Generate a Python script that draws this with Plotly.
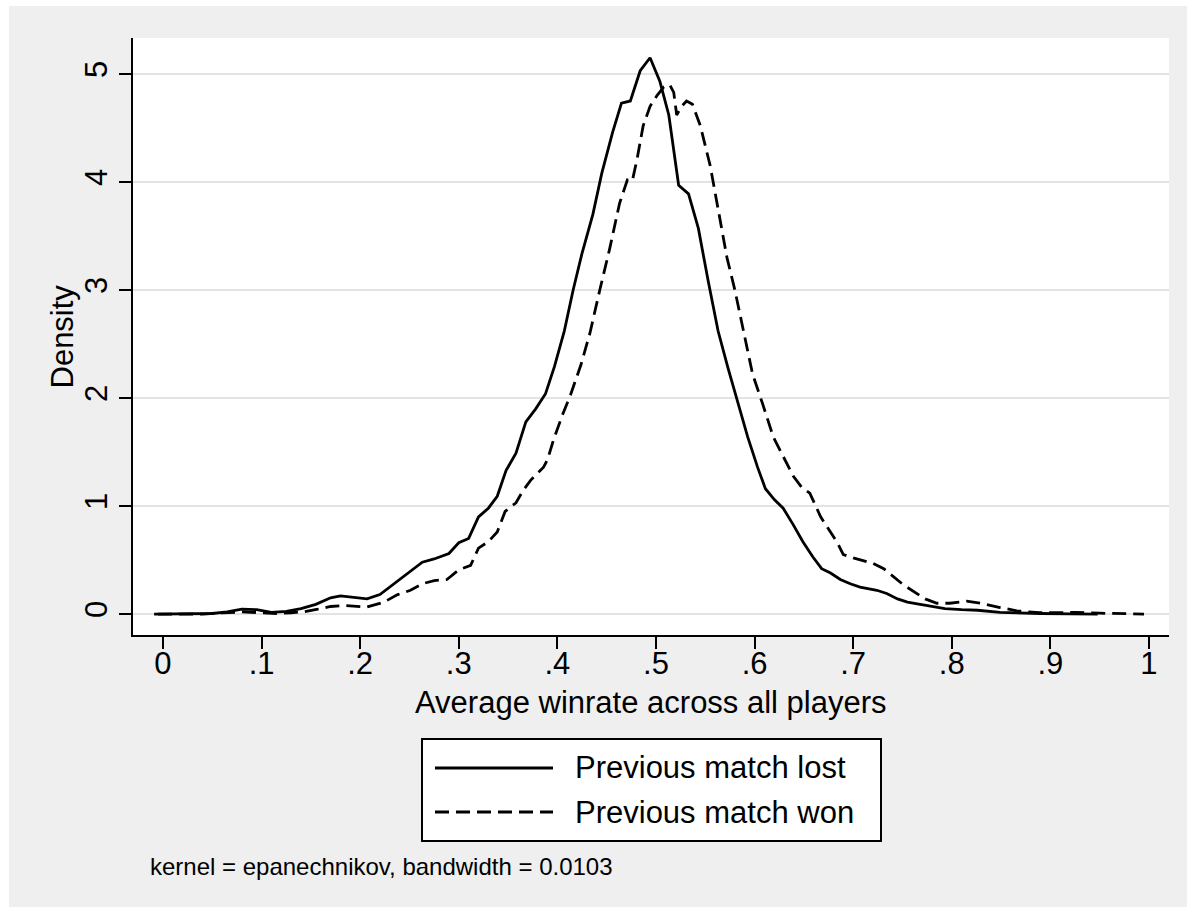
import plotly.graph_objects as go

# ---- data ----
lost_x = [-0.009, 0.01, 0.03, 0.05, 0.065, 0.08, 0.095, 0.11, 0.125, 0.14, 0.155, 0.17, 0.18, 0.195,
          0.207, 0.22, 0.237, 0.25, 0.263, 0.275, 0.29, 0.30, 0.31, 0.32, 0.33, 0.339, 0.348, 0.358,
          0.368, 0.378, 0.388, 0.397, 0.407, 0.416, 0.425, 0.436, 0.445, 0.456, 0.465, 0.474, 0.484,
          0.494, 0.504, 0.513, 0.523, 0.533, 0.543, 0.553, 0.563, 0.573, 0.583, 0.593, 0.603, 0.611,
          0.620, 0.629, 0.639, 0.649, 0.659, 0.668, 0.677, 0.687, 0.697, 0.707, 0.724, 0.734, 0.745,
          0.755, 0.765, 0.775, 0.793, 0.81, 0.826, 0.849, 0.87, 0.89, 0.92, 0.948]
lost_y = [0.0, 0.003, 0.0, 0.005, 0.02, 0.046, 0.04, 0.015, 0.025, 0.05, 0.09, 0.15, 0.168, 0.15,
          0.14, 0.18, 0.30, 0.39, 0.48, 0.51, 0.56, 0.66, 0.70, 0.90, 0.98, 1.09, 1.33, 1.49,
          1.78, 1.90, 2.04, 2.29, 2.62, 3.0, 3.34, 3.70, 4.08, 4.46, 4.73, 4.75, 5.03,
          5.15, 4.93, 4.62, 3.97, 3.89, 3.57, 3.08, 2.62, 2.28, 1.97, 1.64, 1.36, 1.16,
          1.06, 0.98, 0.83, 0.67, 0.53, 0.42, 0.38, 0.32, 0.28, 0.25, 0.22, 0.19, 0.14,
          0.11, 0.095, 0.08, 0.05, 0.04, 0.035, 0.015, 0.008, 0.005, 0.002, 0.0]

won_x = [-0.005, 0.02, 0.04, 0.06, 0.08, 0.1, 0.116, 0.13, 0.143, 0.157, 0.17, 0.184, 0.197, 0.207,
         0.224, 0.238, 0.251, 0.263, 0.275, 0.288, 0.30, 0.312, 0.32, 0.33, 0.339, 0.347, 0.358,
         0.365, 0.373, 0.386, 0.39, 0.396, 0.405, 0.413, 0.424, 0.433, 0.443, 0.453, 0.463, 0.471,
         0.476, 0.481, 0.487, 0.494, 0.501, 0.508, 0.514, 0.518, 0.521, 0.526, 0.531, 0.537, 0.545,
         0.555, 0.563, 0.572, 0.580, 0.590, 0.598, 0.608, 0.619, 0.629, 0.639, 0.648, 0.656, 0.667,
         0.684, 0.690, 0.700, 0.72, 0.731, 0.751, 0.761, 0.773, 0.785, 0.798, 0.815, 0.829, 0.849,
         0.866, 0.889, 0.91, 0.927, 0.95, 0.97, 0.995]
won_y = [0.0, 0.0, 0.0, 0.01, 0.02, 0.012, 0.005, 0.012, 0.022, 0.045, 0.07, 0.08, 0.075, 0.065,
         0.11, 0.18, 0.22, 0.28, 0.31, 0.32, 0.41, 0.45, 0.61, 0.67, 0.76, 0.95, 1.03,
         1.14, 1.24, 1.36, 1.43, 1.61, 1.84, 2.02, 2.31, 2.60, 3.0, 3.38, 3.80, 4.02,
         4.01, 4.22, 4.52, 4.70, 4.80, 4.88, 4.90, 4.83, 4.62, 4.70, 4.75, 4.72, 4.52,
         4.15, 3.75, 3.30, 3.00, 2.55, 2.22, 1.95, 1.64, 1.46, 1.28, 1.17, 1.12, 0.90,
         0.66, 0.55, 0.52, 0.47, 0.42, 0.27, 0.21, 0.14, 0.10, 0.10, 0.12, 0.10, 0.06,
         0.03, 0.012, 0.012, 0.015, 0.008, 0.004, 0.0]

x_tickvals = [0, 0.1, 0.2, 0.3, 0.4, 0.5, 0.6, 0.7, 0.8, 0.9, 1.0]
x_ticktext = ["0", ".1", ".2", ".3", ".4", ".5", ".6", ".7", ".8", ".9", "1"]
y_tickvals = [0, 1, 2, 3, 4, 5]
y_ticktext = ["0", "1", "2", "3", "4", "5"]

series_names = ["Previous match lost", "Previous match won"]
x_title = "Average winrate across all players"
y_title = "Density"
note_text = "kernel = epanechnikov, bandwidth = 0.0103"

# ---- layout geometry ----
W, H = 1196, 913
L, R, T, B = 133, 1169, 38, 635  # plot area in pixels
FONT = "Liberation Sans, Arial, Helvetica, sans-serif"
BG = "#EFEFEF"
LW = 2.8
DASH = "14px,7px"


def px(xp):
    return (xp - L) / (R - L)


def py(yp):
    return (B - yp) / (B - T)


fig = go.Figure()
fig.add_trace(go.Scatter(x=lost_x, y=lost_y, mode="lines", name=series_names[0],
                         line=dict(color="black", width=LW), showlegend=False))
fig.add_trace(go.Scatter(x=won_x, y=won_y, mode="lines", name=series_names[1],
                         line=dict(color="black", width=LW, dash=DASH), showlegend=False))

shapes = []
# white page border around the gray graph background
for (x0, y0, x1, y1) in [(0, 0, 9, H), (1187, 0, W, H), (0, 0, W, 6), (0, 907, W, H)]:
    shapes.append(dict(type="rect", xref="paper", yref="paper", x0=px(x0), x1=px(x1),
                       y0=py(y1), y1=py(y0), fillcolor="white", line=dict(width=0), layer="above"))
# legend box
shapes.append(dict(type="rect", xref="paper", yref="paper", x0=px(422), x1=px(881),
                   y0=py(841), y1=py(739), fillcolor="white", line=dict(color="black", width=2)))
shapes.append(dict(type="line", xref="paper", yref="paper", x0=px(435), x1=px(553),
                   y0=py(768), y1=py(768), line=dict(color="black", width=LW)))
shapes.append(dict(type="line", xref="paper", yref="paper", x0=px(435), x1=px(553),
                   y0=py(812), y1=py(812), line=dict(color="black", width=LW, dash=DASH)))

annotations = [
    dict(text=series_names[0], xref="paper", yref="paper", x=px(573), y=py(768), xanchor="left",
         yanchor="middle", showarrow=False, font=dict(size=31, color="black", family=FONT)),
    dict(text=series_names[1], xref="paper", yref="paper", x=px(573), y=py(812), xanchor="left",
         yanchor="middle", showarrow=False, font=dict(size=31, color="black", family=FONT)),
    dict(text=x_title, xref="paper", yref="paper", x=0.5, y=py(703), xanchor="center",
         yanchor="middle", showarrow=False, font=dict(size=31, color="black", family=FONT)),
    dict(text=y_title, xref="paper", yref="paper", x=px(62), y=0.5, xanchor="center",
         yanchor="middle", textangle=-90, showarrow=False,
         font=dict(size=31, color="black", family=FONT)),
    dict(text=note_text, xref="paper", yref="paper", x=px(148), y=py(866), xanchor="left",
         yanchor="middle", showarrow=False, font=dict(size=24, color="black", family=FONT)),
]

fig.update_layout(
    width=W, height=H, autosize=False,
    margin=dict(l=L, r=W - R, t=T, b=H - B, pad=0),
    paper_bgcolor=BG, plot_bgcolor="white",
    font=dict(family=FONT, color="black"),
    shapes=shapes, annotations=annotations,
    showlegend=False,
    xaxis=dict(range=[-0.0304, 1.0203], tickvals=x_tickvals, ticktext=x_ticktext,
               ticks="outside", ticklen=12, tickwidth=2, tickcolor="black",
               ticklabelstandoff=-12,
               showline=True, linecolor="black", linewidth=2, showgrid=False, zeroline=False,
               tickfont=dict(size=31, family=FONT, color="black"), automargin=False),
    yaxis=dict(range=[-0.194, 5.333], tickvals=y_tickvals, ticktext=y_ticktext,
               ticks="outside", ticklen=12, tickwidth=2, tickcolor="black", tickangle=-90,
               showline=True, linecolor="black", linewidth=2, showgrid=True,
               gridcolor="#E3E3E3", gridwidth=2, zeroline=False,
               tickfont=dict(size=31, family=FONT, color="black"), automargin=False),
)

fig.write_html("out.html")
